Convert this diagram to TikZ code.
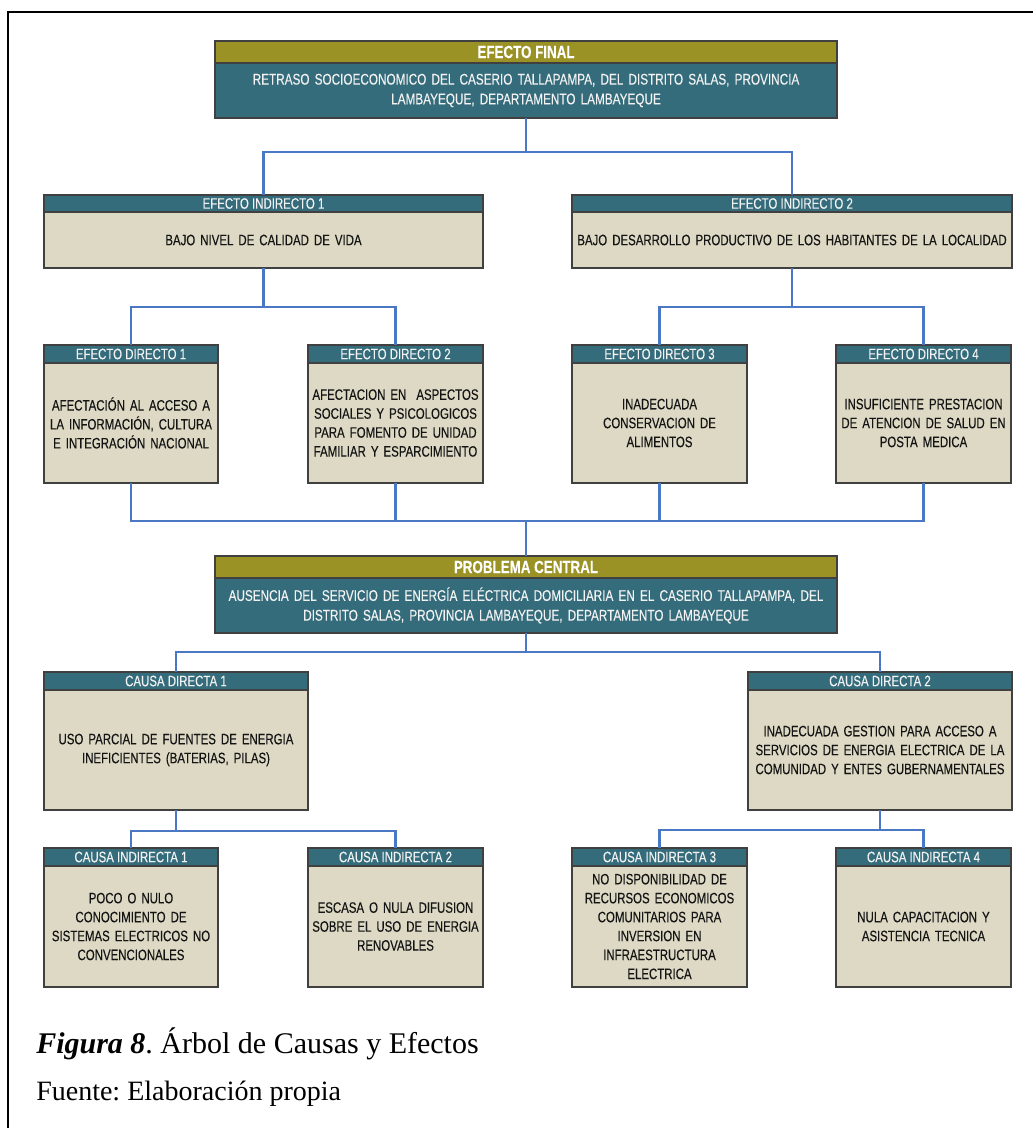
\documentclass[tikz,border=0pt]{standalone}
\usepackage{fontspec}
\setmainfont{Liberation Serif}
\newfontfamily\boxfont{Liberation Sans}[FakeStretch=0.76, FakeBold=0.25]
\definecolor{olivebar}{HTML}{9A9224}
\definecolor{tealbar}{HTML}{346C7B}
\definecolor{beige}{HTML}{DDD9C4}
\definecolor{connblue}{HTML}{4A78C4}
\definecolor{boxline}{HTML}{404040}
\definecolor{boxtext}{HTML}{141414}
\definecolor{hdrtext}{HTML}{F2F2F2}
\frenchspacing

\tikzset{
  conn/.style={draw=connblue, line width=1.8pt},
  boxframe/.style={draw=boxline, line width=0.8pt, inner sep=0pt, outer sep=0pt, anchor=north west},
  boxtype/.style={font=\boxfont\fontsize{11.3}{14.2}\selectfont, align=center},
  maintext/.style={font=\boxfont\fontsize{11.6}{14.8}\selectfont},
  maintitle/.style={font=\boxfont\bfseries\fontsize{13.2}{15}\selectfont},
}

% #1 name, #2 x1, #3 x2, #4 top, #5 header bottom, #6 bottom, #7 header, #8 body
\newcommand{\mainbox}[8]{%
  \pgfmathsetmacro\bw{(#3-#2)*0.75}%
  \pgfmathsetmacro\tw{(#3-#2)*0.75-4}%
  \pgfmathsetmacro\hh{(#5-#4)*0.75}%
  \pgfmathsetmacro\bh{(#6-#5)*0.75}%
  \node[boxframe, boxtype, maintext, fill=tealbar, text=hdrtext, text width=\tw pt,
        minimum width=\bw pt, minimum height=\bh pt] (#1b) at (#2,#5) {#8};
  \node[boxframe, boxtype, maintitle, fill=olivebar, text=white,
        minimum width=\bw pt, minimum height=\hh pt] (#1h) at (#2,#4) {#7};
}
\newcommand{\subbox}[8]{%
  \pgfmathsetmacro\bw{(#3-#2)*0.75}%
  \pgfmathsetmacro\tw{(#3-#2)*0.75-2}%
  \pgfmathsetmacro\hh{(#5-#4)*0.75}%
  \pgfmathsetmacro\bh{(#6-#5)*0.75}%
  \node[boxframe, boxtype, fill=beige, text=boxtext, text width=\tw pt,
        minimum width=\bw pt, minimum height=\bh pt] (#1b) at (#2,#5) {#8};
  \node[boxframe, boxtype, fill=tealbar, text=hdrtext,
        minimum width=\bw pt, minimum height=\hh pt] (#1h) at (#2,#4) {#7};
}

\begin{document}
\begin{tikzpicture}[x=0.75pt,y=-0.75pt]
\useasboundingbox (0,0) rectangle (1033,1128);

% page frame
\draw[line width=1.6pt, black] (8,1128) -- (8,12) -- (1033,12);

% effects
\mainbox{ef}{215}{837}{41}{63}{118}{EFECTO FINAL}{RETRASO SOCIOECONOMICO DEL CASERIO TALLAPAMPA, DEL DISTRITO SALAS, PROVINCIA\\LAMBAYEQUE, DEPARTAMENTO LAMBAYEQUE}
\subbox{eia}{44}{483}{195}{212}{268}{EFECTO INDIRECTO 1}{BAJO NIVEL DE CALIDAD DE VIDA}
\subbox{eib}{572}{1012}{195}{212}{268}{EFECTO INDIRECTO 2}{BAJO DESARROLLO PRODUCTIVO DE LOS HABITANTES DE LA LOCALIDAD}
\subbox{eda}{44}{218}{345}{363}{483}{EFECTO DIRECTO 1}{AFECTACIÓN AL ACCESO A\\LA INFORMACIÓN, CULTURA\\E INTEGRACIÓN NACIONAL}
\subbox{edb}{308}{483}{345}{363}{483}{EFECTO DIRECTO 2}{AFECTACION EN\ \ ASPECTOS\\SOCIALES Y PSICOLOGICOS\\PARA FOMENTO DE UNIDAD\\FAMILIAR Y ESPARCIMIENTO}
\subbox{edc}{572}{747}{345}{363}{483}{EFECTO DIRECTO 3}{INADECUADA\\CONSERVACION DE\\ALIMENTOS}
\subbox{edd}{836}{1011}{345}{363}{483}{EFECTO DIRECTO 4}{INSUFICIENTE PRESTACION\\DE ATENCION DE SALUD EN\\POSTA MEDICA}

% central problem
\mainbox{pc}{215}{837}{556}{578}{633}{PROBLEMA CENTRAL}{AUSENCIA DEL SERVICIO DE ENERGÍA ELÉCTRICA DOMICILIARIA EN EL CASERIO TALLAPAMPA, DEL\\DISTRITO SALAS, PROVINCIA LAMBAYEQUE, DEPARTAMENTO LAMBAYEQUE}

% causes
\subbox{cda}{44}{308}{672}{690}{810}{CAUSA DIRECTA 1}{USO PARCIAL DE FUENTES DE ENERGIA\\INEFICIENTES (BATERIAS, PILAS)}
\subbox{cdb}{748}{1012}{672}{690}{810}{CAUSA DIRECTA 2}{INADECUADA GESTION PARA ACCESO A\\SERVICIOS DE ENERGIA ELECTRICA DE LA\\COMUNIDAD Y ENTES GUBERNAMENTALES}
\subbox{cia}{44}{218}{848}{866}{987}{CAUSA INDIRECTA 1}{POCO O NULO\\CONOCIMIENTO DE\\SISTEMAS ELECTRICOS NO\\CONVENCIONALES}
\subbox{cib}{308}{483}{848}{866}{987}{CAUSA INDIRECTA 2}{ESCASA O NULA DIFUSION\\SOBRE EL USO DE ENERGIA\\RENOVABLES}
\subbox{cic}{572}{747}{848}{866}{987}{CAUSA INDIRECTA 3}{NO DISPONIBILIDAD DE\\RECURSOS ECONOMICOS\\COMUNITARIOS PARA\\INVERSION EN\\INFRAESTRUCTURA\\ELECTRICA}
\subbox{cid}{836}{1011}{848}{866}{987}{CAUSA INDIRECTA 4}{NULA CAPACITACION Y\\ASISTENCIA TECNICA}

% connectors
\draw[conn] (efb.south) -- ++(0,34) -| (eiah.north);
\draw[conn] (efb.south) -- ++(0,34) -| (eibh.north);
\draw[conn] (eiab.south) -- ++(0,39) -| (edah.north);
\draw[conn] (eiab.south) -- ++(0,39) -| (edbh.north);
\draw[conn] (eibb.south) -- ++(0,39) -| (edch.north);
\draw[conn] (eibb.south) -- ++(0,39) -| (eddh.north);
\coordinate (edbus) at (526,521);
\draw[conn] (edab.south) |- (edbus) -- (pch.north);
\draw[conn] (edbb.south) |- (edbus);
\draw[conn] (edcb.south) |- (edbus);
\draw[conn] (eddb.south) |- (edbus);
\draw[conn] (pcb.south) -- ++(0,19) -| (cdah.north);
\draw[conn] (pcb.south) -- ++(0,19) -| (cdbh.north);
\draw[conn] (cdab.south) -- ++(0,21) -| (ciah.north);
\draw[conn] (cdab.south) -- ++(0,21) -| (cibh.north);
\draw[conn] (cdbb.south) -- ++(0,20) -| (cich.north);
\draw[conn] (cdbb.south) -- ++(0,20) -| (cidh.north);

% caption
\node[anchor=base west, inner sep=0pt, font=\fontsize{22.5}{26}\selectfont] (cap) at (36,1053)
  {\textbf{\textit{Figura 8}}. Árbol de Causas y Efectos};
\node[anchor=base west, inner sep=0pt, font=\fontsize{21}{24}\selectfont] (src) at (36,1100)
  {Fuente: Elaboración propia};
\end{tikzpicture}
\end{document}
